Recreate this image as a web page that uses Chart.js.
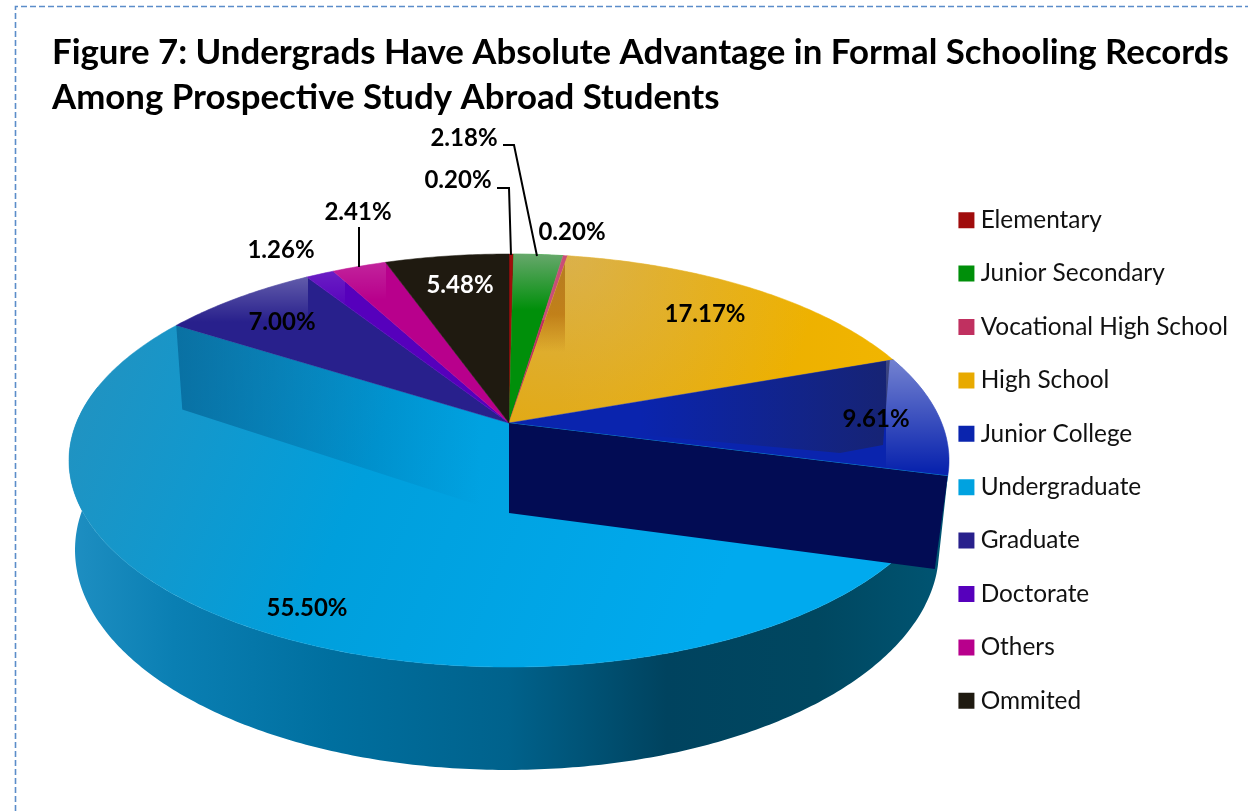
<!DOCTYPE html>
<html>
<head>
<meta charset="utf-8">
<style>
  html, body { margin: 0; padding: 0; background: #fff; }
  #wrap { position: relative; width: 1248px; height: 811px; }
</style>
<script src="https://cdn.jsdelivr.net/npm/chart.js@4"></script>
</head>
<body>
<div id="wrap"><canvas id="chart" width="1248" height="811"></canvas></div>
<script>
const categories = ['Elementary', 'Junior Secondary', 'Vocational High School', 'High School', 'Junior College',
    'Undergraduate', 'Graduate', 'Doctorate', 'Others', 'Ommited'];
const shares = [0.20, 2.18, 0.20, 17.17, 9.61, 55.50, 7.00, 1.26, 2.41, 5.48];
const sliceColors = ['#a00c0c', '#008f0a', '#c03060', '#e8aa00', '#0a24ae',
    '#00a2e0', '#28208c', '#5600bc', '#b8008c', '#1f1a10'];
const titleLines = ['Figure 7: Undergrads Have Absolute Advantage in Formal Schooling Records',
    'Among Prospective Study Abroad Students'];

const FONT = 'Lato, Carlito, sans-serif';
const HIGH_SCHOOL = 3, JUNIOR_COLLEGE = 4, UNDERGRAD = 5, GRADUATE = 6;

// camera used for the tilted disc: p is the perspective strength
const top_ = { x: 509, y: 423, r: 432.7, k: 199.7, p: 0.1817 };
const base = { x: 507, y: 510, r: 424.8, k: 212.7, p: 0.1817 };

function project(d, angle) {
    const u = Math.cos(angle), v = Math.sin(angle), w = 1 - d.p * v;
    return { x: d.x + d.r * u / w, y: d.y + d.k * v / w };
}

function rimPath(ctx, d, from, to, first) {
    const n = Math.max(2, Math.ceil(Math.abs(to - from) * 90));
    for (let i = 0; i <= n; i++) {
        const q = project(d, from + (to - from) * i / n);
        if (i === 0 && first) ctx.moveTo(q.x, q.y); else ctx.lineTo(q.x, q.y);
    }
}

function slicePath(ctx, arc) {
    ctx.beginPath();
    ctx.moveTo(top_.x, top_.y);
    rimPath(ctx, top_, arc.startAngle, arc.endAngle, false);
    ctx.closePath();
}

function linear(ctx, x0, y0, x1, y1, stops) {
    const g = ctx.createLinearGradient(x0, y0, x1, y1);
    stops.forEach(s => g.addColorStop(s[0], s[1]));
    return g;
}

// the outer wall under the big slice, between the upper and lower rim
function drawOuterWall(ctx, arc) {
    const from = arc.startAngle, to = Math.PI * 1.06;
    ctx.beginPath();
    rimPath(ctx, top_, from, to, true);
    rimPath(ctx, base, to, from, false);
    ctx.closePath();
    ctx.fillStyle = linear(ctx, 68, 0, 948, 0, [
        [0, '#1f8fc2'], [0.12, '#0a7fb3'], [0.3, '#006f9f'], [0.5, '#00628c'],
        [0.68, '#00435f'], [0.85, '#004760'], [1, '#005573']]);
    ctx.fill();
}

// light falling off from the far rim, clipped to one slice
function gloss(ctx, arc, fill, x0, y0, x1, y1) {
    ctx.save();
    slicePath(ctx, arc);
    ctx.clip();
    ctx.fillStyle = fill;
    ctx.fillRect(x0, y0, x1 - x0, y1 - y0);
    ctx.restore();
}

function sliceFill(ctx, i) {
    if (i === UNDERGRAD) {
        return linear(ctx, 70, 380, 700, 640, [[0, '#2292c0'], [0.45, '#009fdc'], [1, '#00aaee']]);
    }
    if (i === HIGH_SCHOOL) {
        return linear(ctx, 560, 0, 890, 0, [[0, '#e5a700'], [1, '#f1b500']]);
    }
    return sliceColors[i];
}

function drawSlices(ctx, arcs) {
    arcs.forEach((arc, i) => {
        slicePath(ctx, arc);
        ctx.fillStyle = sliceFill(ctx, i);
        ctx.fill();
        ctx.strokeStyle = ctx.fillStyle;
        ctx.lineWidth = 0.5;
        ctx.stroke();
    });

    // far rim highlights
    gloss(ctx, arcs[1], linear(ctx, 0, 255, 0, 310, [[0, 'rgba(200,190,200,.5)'], [1, 'rgba(200,190,200,0)']]), 505, 250, 570, 320);
    gloss(ctx, arcs[2], 'rgba(255,255,255,.15)', 505, 250, 570, 320);
    gloss(ctx, arcs[6], linear(ctx, 0, 275, 0, 322, [[0, 'rgba(255,255,255,.28)'], [1, 'rgba(255,255,255,0)']]), 170, 270, 308, 330);
    gloss(ctx, arcs[7], linear(ctx, 0, 270, 0, 310, [[0, 'rgba(255,255,255,.12)'], [1, 'rgba(255,255,255,0)']]), 300, 265, 345, 315);
    gloss(ctx, arcs[8], linear(ctx, 0, 262, 0, 300, [[0, 'rgba(255,255,255,.14)'], [1, 'rgba(255,255,255,0)']]), 330, 260, 386, 305);

    // high school: dull glow at the far left, darker wall next to the thin slice
    const hs = ctx.createRadialGradient(570, 255, 10, 570, 255, 250);
    hs.addColorStop(0, 'rgba(205,190,170,.42)');
    hs.addColorStop(1, 'rgba(205,190,170,0)');
    gloss(ctx, arcs[HIGH_SCHOOL], hs, 500, 250, 900, 430);
    gloss(ctx, arcs[HIGH_SCHOOL], linear(ctx, 0, 258, 0, 352, [[0, 'rgba(150,80,0,.55)'], [0.6, 'rgba(170,90,0,.55)'], [1, 'rgba(170,90,0,0)']]), 500, 250, 565, 352);

    // junior college: pale corner at the rim, dark inner wall beside it
    gloss(ctx, arcs[JUNIOR_COLLEGE], linear(ctx, 0, 362, 0, 470, [[0, 'rgba(255,255,255,.42)'], [1, 'rgba(255,255,255,0)']]), 886, 355, 955, 480);
    ctx.save();
    slicePath(ctx, arcs[JUNIOR_COLLEGE]);
    ctx.clip();
    ctx.beginPath();
    ctx.moveTo(top_.x, top_.y);
    ctx.lineTo(890, 358);
    ctx.lineTo(883, 445);
    ctx.lineTo(840, 453);
    ctx.closePath();
    ctx.fillStyle = linear(ctx, 640, 0, 888, 0, [[0, 'rgba(30,35,80,0)'], [1, 'rgba(30,35,80,.62)']]);
    ctx.fill();
    ctx.restore();

    // big slice: wall of the graduate edge seen through the surface
    const rimG = project(top_, arcs[GRADUATE].startAngle);
    ctx.save();
    slicePath(ctx, arcs[UNDERGRAD]);
    ctx.clip();
    ctx.beginPath();
    ctx.moveTo(top_.x, top_.y);
    ctx.lineTo(rimG.x, rimG.y);
    ctx.lineTo(rimG.x + 6, rimG.y + 84);
    ctx.lineTo(top_.x, top_.y + 92);
    ctx.closePath();
    ctx.fillStyle = linear(ctx, rimG.x, 0, 480, 0, [[0, 'rgba(0,90,140,.62)'], [0.6, 'rgba(0,95,150,.25)'], [1, 'rgba(0,100,160,0)']]);
    ctx.fill();
    ctx.restore();

    // cut face at the end of the junior college slice
    const rimJ = project(top_, arcs[JUNIOR_COLLEGE].endAngle);
    ctx.beginPath();
    ctx.moveTo(top_.x, top_.y);
    ctx.lineTo(rimJ.x, rimJ.y);
    ctx.lineTo(rimJ.x - 13, rimJ.y + 93);
    ctx.lineTo(top_.x, top_.y + 90);
    ctx.closePath();
    ctx.fillStyle = '#020c54';
    ctx.fill();
}

const pie3d = {
    id: 'pie3d',
    beforeDatasetDraw(chart) {
        const arcs = chart.getDatasetMeta(0).data;
        const ctx = chart.ctx;
        drawOuterWall(ctx, arcs[UNDERGRAD]);
        drawSlices(ctx, arcs);
        return false;
    }
};

// where each percentage sits; leaders run from label to rim
const labelSpots = [
    { x: 458, y: 180, leader: [[497, 188], [509, 188], [511, 255]] },
    { x: 464, y: 138, leader: [[503, 145], [514, 145], [537, 256]] },
    { x: 572, y: 232 },
    { x: 705, y: 314 },
    { x: 876, y: 419 },
    { x: 307, y: 608 },
    { x: 282, y: 322 },
    { x: 281, y: 250 },
    { x: 358, y: 212, leader: [[359, 227], [359, 267]] },
    { x: 460, y: 285, color: '#fff' }
];

const percentLabels = {
    id: 'percentLabels',
    afterDatasetsDraw(chart) {
        const ctx = chart.ctx;
        ctx.save();
        ctx.textAlign = 'center';
        ctx.textBaseline = 'middle';
        ctx.font = 'bold 24px ' + FONT;
        labelSpots.forEach((s, i) => {
            if (s.leader) {
                ctx.beginPath();
                s.leader.forEach((p, j) => j ? ctx.lineTo(p[0], p[1]) : ctx.moveTo(p[0], p[1]));
                ctx.strokeStyle = '#000';
                ctx.lineWidth = 2;
                ctx.stroke();
            }
            ctx.fillStyle = s.color || '#000';
            ctx.fillText(shares[i].toFixed(2) + '%', s.x, s.y);
        });
        ctx.restore();
    }
};

// dashed frame around the figure
const frame = {
    id: 'frame',
    beforeDraw(chart) {
        const ctx = chart.ctx;
        ctx.save();
        ctx.strokeStyle = '#5b8dc9';
        ctx.lineWidth = 1.6;
        ctx.setLineDash([6, 3]);
        ctx.beginPath();
        ctx.moveTo(15.5, 811);
        ctx.lineTo(15.5, 6.5);
        ctx.lineTo(1248, 6.5);
        ctx.stroke();
        ctx.restore();
    }
};

new Chart(document.getElementById('chart'), {
    type: 'pie',
    data: {
        labels: categories,
        datasets: [{ data: shares, backgroundColor: sliceColors, borderWidth: 0 }]
    },
    options: {
        responsive: false,
        animation: false,
        layout: { padding: { left: 52, right: 10, top: 30, bottom: 69 } },
        plugins: {
            tooltip: { enabled: false },
            title: {
                display: true,
                text: titleLines,
                align: 'start',
                color: '#000',
                font: { family: FONT, size: 34.8, weight: 'bold', lineHeight: 1.293 },
                padding: { top: 0, bottom: 0 }
            },
            legend: {
                position: 'right',
                align: 'end',
                labels: {
                    color: '#111',
                    font: { family: FONT, size: 24.4 },
                    usePointStyle: true,
                    pointStyle: 'rect',
                    boxWidth: 4,
                    boxHeight: 16,
                    padding: 29
                }
            }
        }
    },
    plugins: [frame, pie3d, percentLabels]
});
</script>
</body>
</html>
